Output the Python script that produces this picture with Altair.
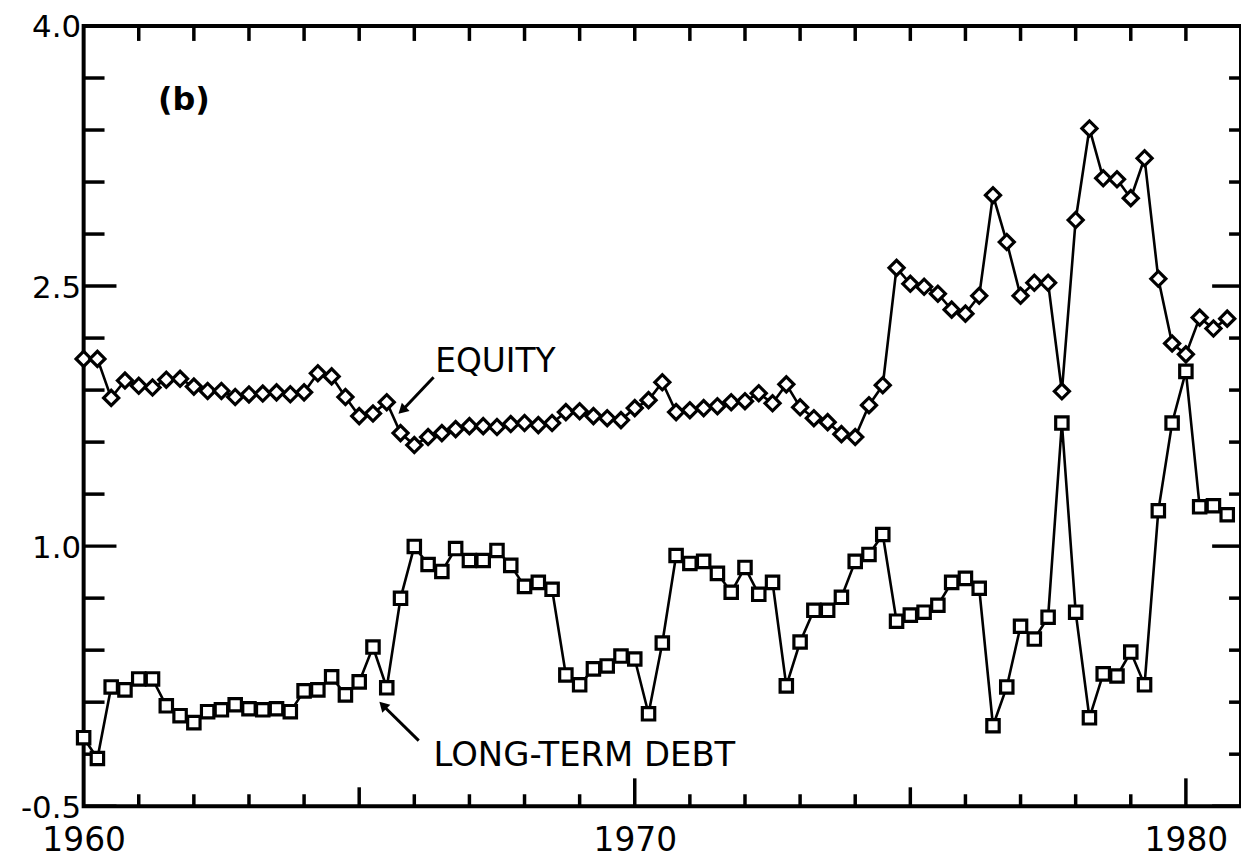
import altair as alt
import pandas as pd

# Quarterly observations, 1960Q1 .. 1980Q4
quarters = [f"{1960 + q // 4}Q{q % 4 + 1}" for q in range(84)]
years = [1960 + q / 4 for q in range(84)]

equity = [2.08, 2.08, 1.855, 1.955, 1.925, 1.915, 1.96, 1.965, 1.92, 1.895, 1.895, 1.86,
          1.875, 1.88, 1.887, 1.876, 1.887, 1.997, 1.979, 1.86, 1.75, 1.765, 1.83,
          1.652, 1.583, 1.629, 1.652, 1.675, 1.692, 1.692, 1.687, 1.704, 1.710, 1.698,
          1.710, 1.773, 1.778, 1.750, 1.738, 1.727, 1.796, 1.842, 1.945, 1.773, 1.784, 1.796,
          1.807, 1.830, 1.836, 1.882, 1.824, 1.933, 1.801, 1.738, 1.715, 1.646, 1.629,
          1.813, 1.928, 2.605, 2.513, 2.496, 2.456, 2.364, 2.341,
          2.444, 3.024, 2.754, 2.444, 2.519, 2.519, 1.893, 2.881, 3.409, 3.122, 3.116,
          3.007, 3.237, 2.542, 2.169, 2.106, 2.318, 2.255, 2.312]

debt = [-0.105, -0.225, 0.188, 0.171, 0.234, 0.234, 0.079, 0.022, -0.018, 0.045, 0.056,
        0.085, 0.062, 0.056, 0.062, 0.045, 0.165, 0.171, 0.246, 0.142, 0.217, 0.418,
        0.183, 0.699, 0.998,
        0.894, 0.854, 0.986, 0.917, 0.917, 0.975, 0.889, 0.768, 0.791, 0.751, 0.257,
        0.200, 0.292, 0.309, 0.366, 0.349, 0.033, 0.441, 0.946, 0.900, 0.912,
        0.843, 0.734, 0.877, 0.722, 0.791, 0.194, 0.447, 0.630,
        0.630, 0.705, 0.912, 0.952, 1.067, 0.567, 0.602, 0.619, 0.659, 0.791, 0.814,
        0.757, -0.036, 0.188, 0.538, 0.464, 0.590, 1.710, 0.619, 0.010, 0.263, 0.251,
        0.389, 0.200, 1.204, 1.710, 2.008, 1.227, 1.233, 1.181]

y_major = [4.0, 2.5, 1.0, -0.5]
y_minor = [3.7, 3.4, 3.1, 2.8, 2.2, 1.9, 1.6, 1.3, 0.7, 0.4, 0.1, -0.2]
x_labels = [1960, 1970, 1980]
x_ticks_small = [1961, 1962, 1963, 1964, 1966, 1967, 1968, 1969,
                 1971, 1972, 1973, 1974, 1976, 1977, 1978, 1979]
x_ticks_mid = [1965, 1975]
x_ticks_big = [1970, 1980]
x_ticks_top = list(range(1961, 1981))

# annotations (year, value)
ann_text = ["(b)", "EQUITY", "LONG-TERM DEBT"]
ann_year = [1961.35, 1966.38, 1966.35]
ann_value = [3.57, 2.06, -0.208]
ann_size = [32, 33, 34]
ann_weight = ["bold", "normal", "normal"]

arrow_tail_year = [1966.35, 1966.08]
arrow_tail_value = [1.974, -0.122]
arrow_head_year = [1965.80, 1965.45]
arrow_head_value = [1.790, 0.075]
arrow_angle = [227, 315]

W, H = 1163, 784
FONT = "DejaVu Sans"

xs = alt.Scale(domain=[1960, 1981], nice=False, zero=False)
ys = alt.Scale(domain=[-0.5, 4.0], nice=False, zero=False)

xaxis = alt.Axis(values=x_labels, format="d", ticks=False, domain=False, grid=False,
                 labelPadding=19, labelFontSize=33, labelFont=FONT, labelColor="black",
                 labelFlush=False, title=None)
yaxis = alt.Axis(values=y_major, ticks=False, domain=False, grid=False,
                 labelPadding=3, labelFontSize=31, labelFont=FONT, labelColor="black",
                 labelFlush=False, labelOffset=2, title=None,
                 labelExpr="datum.value < 0 ? '-' + format(-datum.value, '.1f') : format(datum.value, '.1f')")

X = alt.X("year:Q", scale=xs, axis=xaxis)
Y = alt.Y("value:Q", scale=ys, axis=yaxis)

eq_df = pd.DataFrame({"quarter": quarters, "year": years, "value": equity})
dt_df = pd.DataFrame({"quarter": quarters, "year": years, "value": debt})

eq_line = alt.Chart(eq_df).mark_line(color="black", strokeWidth=2.6).encode(x=X, y=Y)
dt_line = alt.Chart(dt_df).mark_line(color="black", strokeWidth=2.6).encode(x=X, y=Y)
eq_pts = alt.Chart(eq_df).mark_point(shape="diamond", size=230, filled=True, fill="white",
                                     stroke="black", strokeWidth=3.2, opacity=1).encode(x=X, y=Y)
dt_pts = alt.Chart(dt_df).mark_point(shape="square", size=155, filled=True, fill="white",
                                     stroke="black", strokeWidth=3.2, opacity=1).encode(x=X, y=Y)

def yticks(vals, x0, x1):
    return alt.Chart(pd.DataFrame({"value": vals})).mark_rule(color="black", strokeWidth=3.5).encode(
        y=Y, x=alt.value(x0), x2=alt.value(x1))

def xticks(vals, y0, y1):
    return alt.Chart(pd.DataFrame({"year": vals})).mark_rule(color="black", strokeWidth=3.5).encode(
        x=X, y=alt.value(y0), y2=alt.value(y1))

tick_layers = [
    yticks(y_major, 0, 33), yticks(y_minor, 0, 21),
    yticks(y_major, W - 29, W), yticks(y_minor, W - 12, W),
    xticks(x_ticks_top, 0, 15),
    xticks(x_ticks_small, H - 12, H), xticks(x_ticks_mid, H - 19, H), xticks(x_ticks_big, H - 28, H),
]

ann_df = pd.DataFrame({"text": ann_text, "year": ann_year, "value": ann_value,
                       "size": ann_size, "weight": ann_weight})
ann_plain = alt.Chart(ann_df).transform_filter("datum.weight == 'normal'").mark_text(
    font=FONT, align="left", baseline="middle", color="black").encode(
    x=X, y=Y, text="text:N", size=alt.Size("size:Q", scale=None, legend=None))
ann_bold = alt.Chart(ann_df).transform_filter("datum.weight == 'bold'").mark_text(
    font=FONT, align="left", baseline="middle", color="black", fontWeight="bold").encode(
    x=X, y=Y, text="text:N", size=alt.Size("size:Q", scale=None, legend=None))

arr_df = pd.DataFrame({"year": arrow_tail_year, "value": arrow_tail_value,
                       "year2": arrow_head_year, "value2": arrow_head_value,
                       "angle": arrow_angle})
arr_line = alt.Chart(arr_df).mark_rule(color="black", strokeWidth=3).encode(
    x=X, y=Y, x2="year2:Q", y2="value2:Q")
arr_head = alt.Chart(arr_df).mark_point(shape="triangle", size=130, filled=True, color="black",
                                        opacity=1).encode(
    x=alt.X("year2:Q", scale=xs, axis=xaxis), y=alt.Y("value2:Q", scale=ys, axis=yaxis),
    angle=alt.Angle("angle:Q", scale=None))

chart = alt.layer(
    *tick_layers, eq_line, dt_line, eq_pts, dt_pts, arr_line, arr_head, ann_plain, ann_bold
).properties(
    width=W, height=H,
    padding={"left": 76, "top": 16, "right": 0, "bottom": 56},
    autosize=alt.AutoSizeParams(type="none"),
    background="white",
).configure_view(stroke="black", strokeWidth=4)

chart.save("out.html", embed_options={"renderer": "svg", "actions": False})
